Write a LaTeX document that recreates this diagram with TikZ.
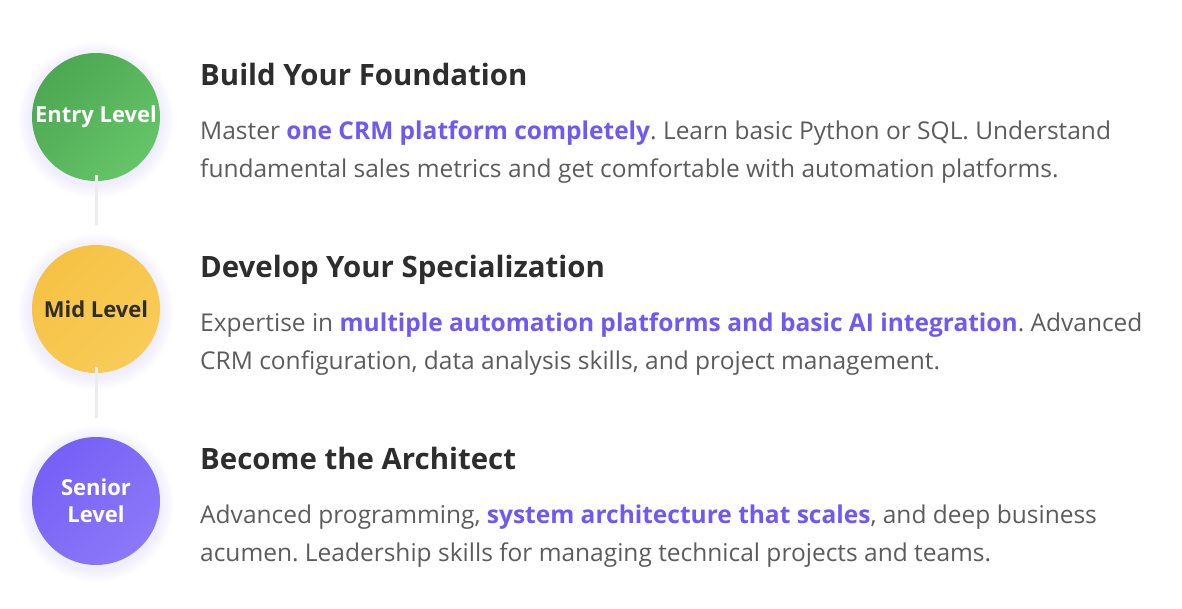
\documentclass[tikz,border=0pt]{standalone}
\usepackage{fontspec}
\setmainfont{Open Sans}
\usetikzlibrary{positioning}
\definecolor{inkdark}{HTML}{2D2D2D}
\definecolor{inkbody}{HTML}{5C5C5C}
\definecolor{accent}{HTML}{7058F5}
\definecolor{greendark}{HTML}{4CA852}
\definecolor{greenlight}{HTML}{66C468}
\definecolor{yellowdark}{HTML}{F6C244}
\definecolor{yellowlight}{HTML}{F8CC58}
\definecolor{purpledark}{HTML}{7660F6}
\definecolor{purplelight}{HTML}{8C78F8}
\definecolor{glow}{HTML}{8C7CF0}
\definecolor{linkgray}{HTML}{ECECEC}
\newcommand{\hl}[1]{\textcolor{accent}{\bfseries #1}}
\frenchspacing

\begin{document}
\begin{tikzpicture}[x=1pt, y=-1pt,
  level/.style={circle, minimum size=128pt, inner sep=0pt, align=center,
    font=\fontsize{22}{27}\selectfont\bfseries},
  heading/.style={anchor=base west, inner sep=0pt,
    font=\fontsize{29.4}{34}\selectfont\bfseries, text=inkdark},
  body/.style={anchor=base west, inner sep=0pt,
    font=\fontsize{24.5}{38}\selectfont, text=inkbody},
  link/.style={draw=linkgray, line width=3pt}
]
  \useasboundingbox (0,0) rectangle (1182,608);

  % soft glow behind the circles
  \foreach \cy in {117,309,501}
    \foreach \r in {2,4,...,14}
      \fill[glow, opacity=0.02] (96,\cy+3) circle[radius={64pt+\r pt}];

  \node[level, text=white, top color=greendark, bottom color=greenlight,
    shading angle=45] (entry) at (96,117) {Entry Level};
  \node[level, text=inkdark, top color=yellowdark, bottom color=yellowlight,
    shading angle=45] (mid) at (96,309) {Mid Level};
  \node[level, text=white, top color=purpledark, bottom color=purplelight,
    shading angle=45] (senior) at (96,501) {Senior\\Level};

  \coordinate (gap1) at (96,225);
  \coordinate (gap2) at (96,418);
  \draw[link] ([yshift=6pt]entry.south) -- (gap1);
  \draw[link] ([yshift=6pt]mid.south) -- (gap2);

  % entry level
  \node[heading] (h1) at (200,85) {Build Your Foundation};
  \node[body] (b1a) at (200,139)
    {Master \hl{one CRM platform completely}. Learn basic Python or SQL. Understand};
  \node[body] (b1b) at (200,177)
    {fundamental sales metrics and get comfortable with automation platforms.};

  % mid level
  \node[heading] (h2) at (200,277) {Develop Your Specialization};
  \node[body] (b2a) at (200,331)
    {Expertise in \hl{multiple automation platforms and basic AI integration}. Advanced};
  \node[body] (b2b) at (200,369)
    {CRM configuration, data analysis skills, and project management.};

  % senior level
  \node[heading] (h3) at (200,469) {Become the Architect};
  \node[body] (b3a) at (200,523)
    {Advanced programming, \hl{system architecture that scales}, and deep business};
  \node[body] (b3b) at (200,561)
    {acumen. Leadership skills for managing technical projects and teams.};
\end{tikzpicture}
\end{document}
